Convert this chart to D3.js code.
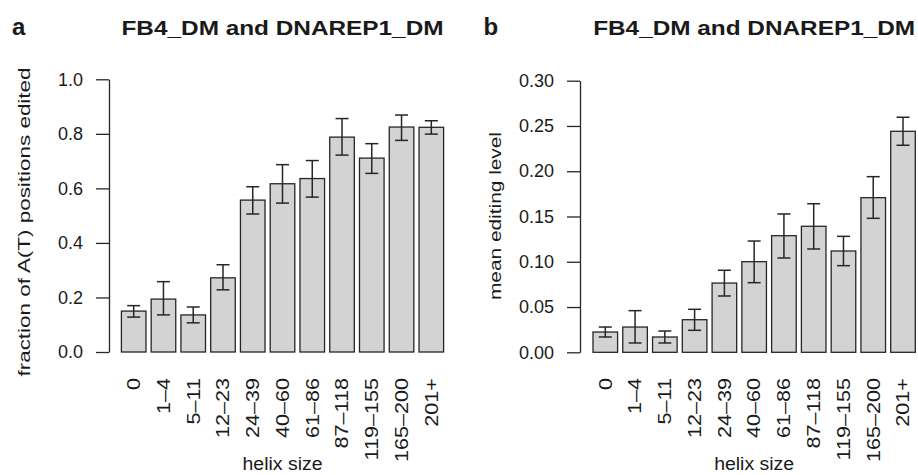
<!DOCTYPE html>
<html>
<head>
<meta charset="utf-8">
<script src="https://cdn.jsdelivr.net/npm/d3@7"></script>
<style>
  body { margin: 0; background: #fff; }
  svg text { font-family: "Liberation Sans", Arial, Helvetica, sans-serif; fill: #1a1a1a; }
</style>
</head>
<body>
<svg id="chart" width="918" height="475"></svg>
<script>
// helix size bins, shared by both panels
const categories = ["0", "1–4", "5–11", "12–23", "24–39", "40–60", "61–86", "87–118", "119–155", "165–200", "201+"];

// panel a: fraction of A(T) positions edited, with error bar ends
const fractionEdited = [0.150, 0.194, 0.136, 0.272, 0.557, 0.617, 0.636, 0.788, 0.711, 0.825, 0.824];
const fractionLow = [0.128, 0.136, 0.107, 0.228, 0.506, 0.546, 0.568, 0.722, 0.655, 0.776, 0.799];
const fractionHigh = [0.170, 0.258, 0.165, 0.320, 0.606, 0.687, 0.702, 0.856, 0.764, 0.869, 0.848];
const fractionTicks = [0, 0.2, 0.4, 0.6, 0.8, 1.0];

// panel b: mean editing level, with error bar ends
const meanLevel = [0.0224, 0.0279, 0.0169, 0.0360, 0.0765, 0.1001, 0.1288, 0.1392, 0.1119, 0.1708, 0.2441];
const meanLow = [0.0169, 0.0103, 0.0103, 0.0243, 0.0622, 0.0769, 0.1042, 0.1141, 0.0957, 0.1480, 0.2287];
const meanHigh = [0.0279, 0.0460, 0.0235, 0.0475, 0.0906, 0.1229, 0.1528, 0.1641, 0.1281, 0.1940, 0.2596];
const levelTicks = [0, 0.05, 0.10, 0.15, 0.20, 0.25, 0.30];

const TITLE = "FB4_DM and DNAREP1_DM";
const X_LABEL = "helix size";
const INK = "#262626";
const BAR_FILL = "#d3d3d3";
const LABEL_TOP = 378;

const svg = d3.select("#chart");

const panels = [
  {
    letter: "a", letterX: 12, axisX: 109,
    barRange: [121.4, 443.6], yRange: [352, 79.3], domain: [0, 1],
    ticks: fractionTicks, format: ".1f",
    values: fractionEdited, low: fractionLow, high: fractionHigh,
    yLabel: "fraction of A(T) positions edited", yLabelX: 29.5, yLabelY: 222, yLabelLen: 309,
  },
  {
    letter: "b", letterX: 483.5, axisX: 580,
    barRange: [593, 915.3], yRange: [352.3, 80.7], domain: [0, 0.3],
    ticks: levelTicks, format: ".2f",
    values: meanLevel, low: meanLow, high: meanHigh,
    yLabel: "mean editing level", yLabelX: 500.5, yLabelY: 216, yLabelLen: 168,
  },
];

function drawPanel(p) {
  const g = svg.append("g");

  const x = d3.scaleBand()
    .domain(categories)
    .range(p.barRange)
    .paddingInner(0.174)
    .paddingOuter(0);

  const y = d3.scaleLinear().domain(p.domain).range(p.yRange);
  const centre = (p.barRange[0] + p.barRange[1]) / 2;

  // panel letter and title
  g.append("text")
    .attr("x", p.letterX)
    .attr("y", 35)
    .attr("font-size", 24)
    .attr("font-weight", "bold")
    .text(p.letter);

  g.append("text")
    .attr("x", centre)
    .attr("y", 35)
    .attr("text-anchor", "middle")
    .attr("font-size", 20)
    .attr("font-weight", "bold")
    .attr("textLength", 322)
    .attr("lengthAdjust", "spacingAndGlyphs")
    .text(TITLE);

  // y axis
  const axis = g.append("g")
    .attr("transform", `translate(${p.axisX},0)`)
    .call(
      d3.axisLeft(y)
        .tickValues(p.ticks)
        .tickFormat(d3.format(p.format))
        .tickSize(13)
        .tickSizeOuter(0)
        .tickPadding(13)
    );
  axis.select(".domain").attr("stroke", INK).attr("stroke-width", 1.3);
  axis.selectAll(".tick line").attr("stroke", INK).attr("stroke-width", 1.3);
  axis.selectAll(".tick text")
    .attr("font-size", 18)
    .attr("fill", "#1a1a1a")
    .attr("font-family", '"Liberation Sans", Arial, sans-serif');

  g.append("text")
    .attr("transform", `translate(${p.yLabelX},${p.yLabelY}) rotate(-90)`)
    .attr("text-anchor", "middle")
    .attr("font-size", 17)
    .attr("textLength", p.yLabelLen)
    .attr("lengthAdjust", "spacingAndGlyphs")
    .text(p.yLabel);

  // bars
  g.append("g")
    .selectAll("rect")
    .data(categories)
    .join("rect")
    .attr("x", (d) => x(d))
    .attr("width", x.bandwidth())
    .attr("y", (d, i) => y(p.values[i]))
    .attr("height", (d, i) => y(0) - y(p.values[i]))
    .attr("fill", BAR_FILL)
    .attr("stroke", INK)
    .attr("stroke-width", 1.3);

  // error bars
  const CAP = 6.5;
  const err = g.append("g")
    .attr("stroke", INK)
    .attr("stroke-width", 1.5)
    .selectAll("g")
    .data(categories)
    .join("g")
    .attr("transform", (d) => `translate(${x(d) + x.bandwidth() / 2},0)`);

  err.append("line")
    .attr("y1", (d, i) => y(p.low[i]))
    .attr("y2", (d, i) => y(p.high[i]));
  err.append("line")
    .attr("x1", -CAP).attr("x2", CAP)
    .attr("y1", (d, i) => y(p.low[i]))
    .attr("y2", (d, i) => y(p.low[i]));
  err.append("line")
    .attr("x1", -CAP).attr("x2", CAP)
    .attr("y1", (d, i) => y(p.high[i]))
    .attr("y2", (d, i) => y(p.high[i]));

  // rotated category labels, right-aligned under the bars
  g.append("g")
    .selectAll("text")
    .data(categories)
    .join("text")
    .attr("transform", (d) => `translate(${x(d) + x.bandwidth() / 2},${LABEL_TOP}) rotate(-90) scale(1.2,1)`)
    .attr("text-anchor", "end")
    .attr("dy", "0.35em")
    .attr("font-size", 18)
    .text((d) => d);

  g.append("text")
    .attr("x", centre)
    .attr("y", 470)
    .attr("text-anchor", "middle")
    .attr("font-size", 18)
    .attr("textLength", 80)
    .attr("lengthAdjust", "spacingAndGlyphs")
    .text(X_LABEL);
}

panels.forEach(drawPanel);
</script>
</body>
</html>
